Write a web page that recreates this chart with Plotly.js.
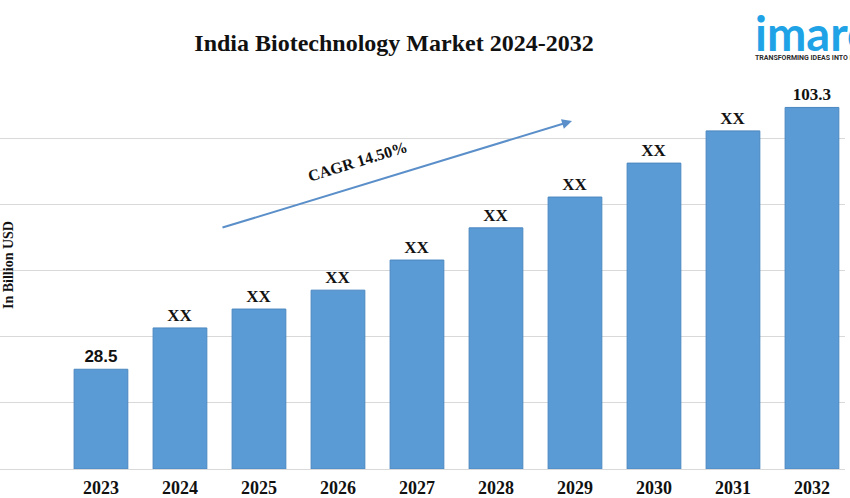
<!DOCTYPE html>
<html>
<head>
<meta charset="utf-8">
<script src="https://cdn.plot.ly/plotly-3.0.1.min.js"></script>
<style>html,body{margin:0;padding:0;background:#fff;}#chart{width:850px;height:498px;}</style>
</head>
<body>
<div id="chart"></div>
<script>
// Data
const years = ["2023","2024","2025","2026","2027","2028","2029","2030","2031","2032"];
const marketValues = [28.5, 40.3, 45.7, 51.1, 59.7, 68.9, 77.7, 87.4, 96.6, 103.3];
const barLabels = ["28.5","XX","XX","XX","XX","XX","XX","XX","XX","103.3"];
const labelFonts = ["Liberation Sans","Liberation Serif","Liberation Serif","Liberation Serif","Liberation Serif","Liberation Serif","Liberation Serif","Liberation Serif","Liberation Serif","Liberation Serif"];
const chartTitle = "India Biotechnology Market 2024-2032";
const yTitle = "In Billion USD";
const cagrText = "CAGR 14.50%";
const logoText = "imarc";
const logoTagline = "TRANSFORMING IDEAS INTO IMPACT";

const serif = "Liberation Serif, DejaVu Serif, serif";

const trace = {
  type: "bar",
  x: years,
  y: marketValues,
  text: barLabels,
  texttemplate: "<b>%{text}</b>",
  textposition: "outside",
  cliponaxis: false,
  textfont: {family: labelFonts, size: 17, color: "#111"},
  marker: {color: "#5b9bd5", line: {color: "#4a86c0", width: 1}},
  hoverinfo: "x+y"
};

const layout = {
  width: 850, height: 498,
  margin: {l: 0, r: 5, t: 72, b: 29},
  paper_bgcolor: "#fff", plot_bgcolor: "#fff",
  showlegend: false,
  bargap: 0.32,
  title: {text: "<b>" + chartTitle + "</b>", font: {family: serif, size: 24, color: "#111"},
          x: 394/850, xanchor: "center", y: 1 - 43/498, yanchor: "middle"},
  xaxis: {type: "category", range: [-1.278, 9.418], showgrid: false, showline: false, zeroline: false,
          ticks: "", ticklabelstandoff: 6,
          tickfont: {family: serif, size: 18, color: "#111", weight: "bold"}},
  yaxis: {range: [0, 113.43], tick0: 0, dtick: 18.905, showticklabels: false, ticks: "",
          showgrid: true, gridcolor: "#d9d9d9", gridwidth: 1, zeroline: true, zerolinecolor: "#d9d9d9", zerolinewidth: 1, showline: false},
  annotations: [
    {xref: "paper", yref: "paper", x: 8/845, y: (469-265)/397, text: "<b>" + yTitle + "</b>", textangle: -90,
     showarrow: false, xanchor: "center", yanchor: "middle", font: {family: serif, size: 14, color: "#111"}},
    {xref: "paper", yref: "paper", x: 572/845, y: (469-121)/397, ax: -351, ay: 107, text: "",
     showarrow: true, arrowhead: 2, arrowsize: 1, arrowwidth: 2, arrowcolor: "#5b8fc9", standoff: 0, startstandoff: 0},
    {xref: "paper", yref: "paper", x: 357/845, y: (469-161)/397, text: "<b>" + cagrText + "</b>", textangle: -17,
     showarrow: false, xanchor: "center", yanchor: "middle", font: {family: serif, size: 16, color: "#111"}},
    {xref: "paper", yref: "paper", x: 753/845, y: (469-64)/397, align: "left",
     text: "<span style='font-size:47px;color:#1fa3e6;font-family:Lato'><b>" + logoText + "</b></span><br><b>" + logoTagline + "</b>",
     showarrow: false, xanchor: "left", yanchor: "bottom", font: {family: "Roboto, sans-serif", size: 7, color: "#2b2b2b"}}
  ]
};

Plotly.newPlot("chart", [trace], layout, {displayModeBar: false, staticPlot: true});
</script>
</body>
</html>
